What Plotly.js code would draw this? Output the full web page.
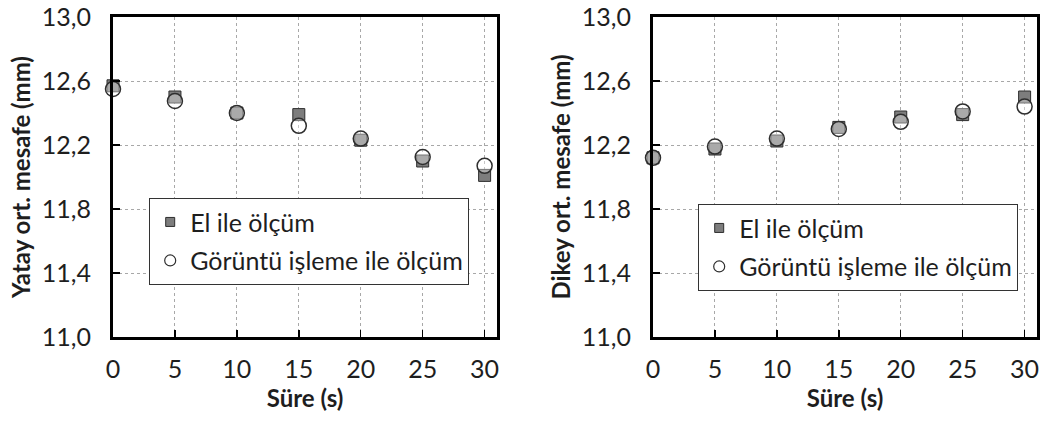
<!DOCTYPE html>
<html>
<head>
<meta charset="utf-8">
<script src="https://cdn.plot.ly/plotly-3.0.1.min.js"></script>
<style>html,body{margin:0;padding:0;background:#fff;}#chart{width:1046px;height:421px;}</style>
</head>
<body>
<div id="chart"></div>
<script>
// Data
const time = [0, 5, 10, 15, 20, 25, 30];
const leftManual = [12.57, 12.50, 12.40, 12.39, 12.23, 12.10, 12.01];
const leftImage  = [12.55, 12.475, 12.40, 12.32, 12.24, 12.125, 12.07];
const rightManual = [12.12, 12.175, 12.225, 12.31, 12.375, 12.39, 12.50];
const rightImage  = [12.12, 12.19, 12.24, 12.30, 12.345, 12.41, 12.44];
const seriesNames = ["El ile ölçüm", "Görüntü işleme ile ölçüm"];
const xTitle = "Süre (s)";
const yTitleLeft = "Yatay ort. mesafe (mm)";
const yTitleRight = "Dikey ort. mesafe (mm)";

const FONT = "Lato, 'Open Sans', sans-serif";
const TXT = "#1e1e1e";
const squareMarker = {symbol: "square", size: 12, color: "#7d7d7d", line: {color: "#2e2e2e", width: 1}};
const circleMarker = {symbol: "circle", size: 15, color: "rgba(255,255,255,0.35)", line: {color: "#2e2e2e", width: 1.5}};
const squareLegend = {symbol: "square", size: 9, color: "#7d7d7d", line: {color: "#2e2e2e", width: 1}};
const circleLegend = {symbol: "circle", size: 11, color: "#fff", line: {color: "#2e2e2e", width: 1.2}};

function dataTrace(y, marker, xa, ya) {
  return {x: time, y: y, mode: "markers", marker: marker, xaxis: xa, yaxis: ya, showlegend: false, cliponaxis: false, hoverinfo: "skip"};
}
function legendTrace(name, marker, xa, ya, leg, grp) {
  return {x: [null], y: [null], name: name, mode: "markers", marker: marker, xaxis: xa, yaxis: ya, legend: leg, legendgroup: grp, showlegend: true};
}

const traces = [
  dataTrace(leftManual, squareMarker, "x", "y"),
  dataTrace(leftImage, circleMarker, "x", "y"),
  dataTrace(rightManual, squareMarker, "x2", "y2"),
  dataTrace(rightImage, circleMarker, "x2", "y2"),
  legendTrace(seriesNames[0], squareLegend, "x", "y", "legend", "a"),
  legendTrace(seriesNames[1], circleLegend, "x", "y", "legend", "b"),
  legendTrace(seriesNames[0], squareLegend, "x2", "y2", "legend2", "c"),
  legendTrace(seriesNames[1], circleLegend, "x2", "y2", "legend2", "d")
];

function xAxis(domain, anchor) {
  return {
    domain: domain, anchor: anchor, range: [0, 31], tickvals: time, ticktext: time.map(String),
    showgrid: true, gridcolor: "#a8a8a8", griddash: "dot", gridwidth: 1,
    showline: true, mirror: true, linecolor: "#000", linewidth: 3,
    ticks: "inside", ticklen: 7, tickwidth: 1.5, tickcolor: "#000",
    ticklabelstandoff: 8, zeroline: false,
    tickfont: {family: FONT, size: 25, color: TXT},
    title: {text: xTitle, font: {family: FONT, size: 24, color: TXT, weight: "bold"}, standoff: 4}
  };
}
function yAxis(domain, anchor, title) {
  return {
    domain: domain, anchor: anchor, range: [11, 13], dtick: 0.4, tick0: 11, tickformat: ".1f",
    showgrid: true, gridcolor: "#a8a8a8", griddash: "dot", gridwidth: 1,
    showline: true, mirror: true, linecolor: "#000", linewidth: 3,
    ticks: "inside", ticklen: 7, tickwidth: 1.5, tickcolor: "#000",
    ticklabelstandoff: 14, zeroline: false,
    tickfont: {family: FONT, size: 25, color: TXT},
    title: {text: title, font: {family: FONT, size: 24, color: TXT, weight: "bold"}, standoff: 5}
  };
}
const yDom = [(421 - 337) / 421, (421 - 17) / 421];
const legendBase = {
  bgcolor: "#fff", bordercolor: "#333", borderwidth: 1.2,
  font: {family: FONT, size: 25, color: TXT},
  xanchor: "left", yanchor: "top", traceorder: "grouped", tracegroupgap: 3
};
const layout = {
  width: 1046, height: 421,
  margin: {l: 0, r: 0, t: 0, b: 0},
  paper_bgcolor: "#fff", plot_bgcolor: "#fff",
  separators: ",.",
  showlegend: true,
  xaxis: xAxis([113 / 1046, 497 / 1046], "y"),
  yaxis: yAxis(yDom, "x", yTitleLeft),
  xaxis2: xAxis([653 / 1046, 1037 / 1046], "y2"),
  yaxis2: yAxis(yDom, "x2", yTitleRight),
  legend: Object.assign({}, legendBase, {x: 149 / 1046, y: (421 - 198) / 421}),
  legend2: Object.assign({}, legendBase, {x: 698 / 1046, y: (421 - 204) / 421})
};
Plotly.newPlot("chart", traces, layout, {staticPlot: true, displayModeBar: false});
</script>
</body>
</html>
